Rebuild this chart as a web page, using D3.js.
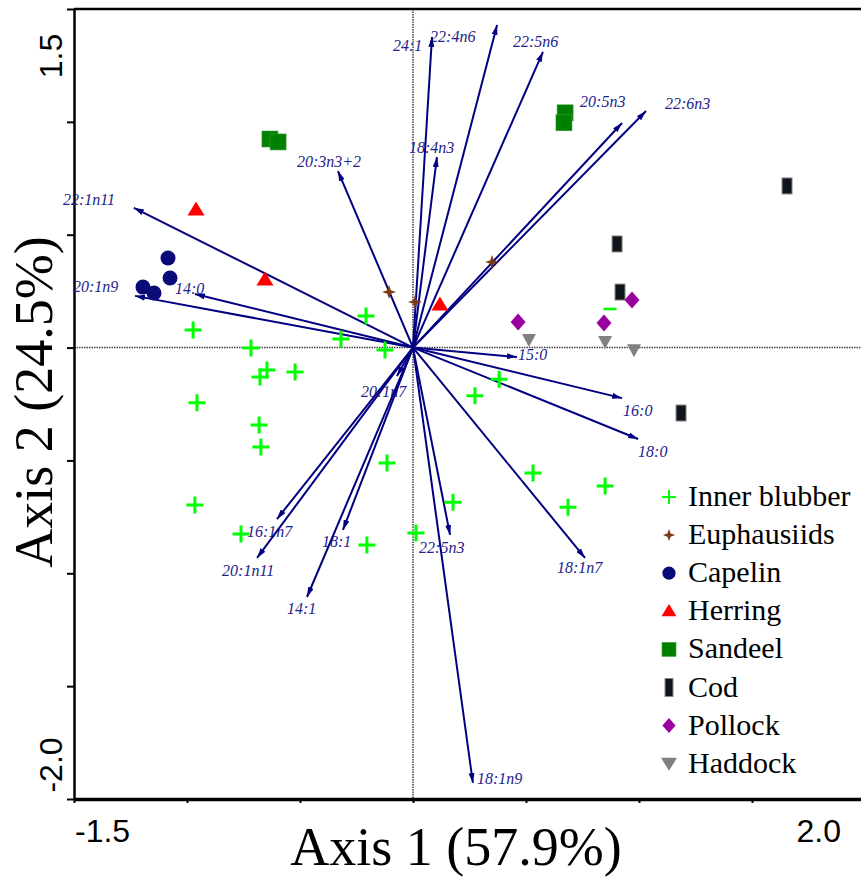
<!DOCTYPE html>
<html>
<head>
<meta charset="utf-8">
<script src="https://cdn.jsdelivr.net/npm/d3@7"></script>
<style>
  html, body { margin: 0; padding: 0; background: #fff; }
  svg { display: block; }
</style>
</head>
<body>
<svg id="chart" width="861" height="877"></svg>
<script>
// ---------------- DATA ----------------
const innerBlubber = [
  [-0.973, 0.078], [-0.717, -0.002], [-0.646, -0.099], [-0.677, -0.130],
  [-0.522, -0.108], [-0.319, 0.038], [-0.208, 0.140], [-0.124, -0.011],
  [-0.956, -0.245], [-0.681, -0.343], [-0.673, -0.440], [-0.965, -0.697],
  [-0.761, -0.826], [-0.204, -0.875], [-0.115, -0.511], [0.013, -0.822],
  [0.177, -0.685], [0.274, -0.214], [0.381, -0.140], [0.531, -0.556],
  [0.686, -0.707], [0.850, -0.613]
];
const innerBlubberPartial = [[0.872, 0.171]];
const euphausiids = [[-0.106, 0.246], [0.009, 0.202], [0.350, 0.379]];
const capelin = [[-1.084, 0.397], [-1.075, 0.308], [-1.195, 0.268], [-1.146, 0.242]];
const herring = [[-0.960, 0.610], [-0.655, 0.300], [0.119, 0.189]];
const sandeel = [[-0.633, 0.924], [-0.597, 0.911], [0.673, 1.040], [0.668, 0.996]];
const cod = [[1.655, 0.716], [0.903, 0.459], [0.916, 0.246], [1.186, -0.290]];
const pollock = [[0.969, 0.211], [0.465, 0.113], [0.845, 0.109]];
const haddock = [[0.513, 0.034], [0.850, 0.025], [0.978, -0.011]];

const fattyAcids = ["24:1", "22:4n6", "22:5n6", "20:5n3", "22:6n3", "18:4n3", "20:3n3+2",
  "22:1n11", "20:1n9", "14:0", "15:0", "16:0", "18:0", "18:1n7", "22:5n3", "18:1n9",
  "20:1n7", "16:1n7", "20:1n11", "18:1", "14:1"];
const loadingAxis1 = [0.084, 0.372, 0.575, 0.925, 1.031, 0.106, -0.332,
  -1.235, -1.230, -0.965, 0.460, 0.925, 0.996, 0.761, 0.164, 0.265,
  -0.071, -0.602, -0.690, -0.310, -0.469];
const loadingAxis2 = [1.376, 1.429, 1.310, 0.995, 1.048, 0.844, 0.782,
  0.619, 0.229, 0.237, -0.042, -0.224, -0.405, -0.932, -0.830, -1.929,
  -0.126, -0.760, -0.932, -0.808, -1.105];

const groupNames = ["Inner blubber", "Euphausiids", "Capelin", "Herring", "Sandeel", "Cod", "Pollock", "Haddock"];
const xTickValues = [-1.5, -1.0, -0.5, 0, 0.5, 1.0, 1.5];
const yTickValues = [-2.0, -1.5, -1.0, -0.5, 0, 0.5, 1.0, 1.5];
const xEndLabels = ["-1.5", "2.0"];
const yEndLabels = ["-2.0", "1.5"];
const axisTitles = ["Axis 1 (57.9%)", "Axis 2 (24.5%)"];

// ---------------- LAYOUT / STYLE ----------------
const labelOffset = {
  "24:1": [-39, 14], "22:4n6": [-67, 17], "22:5n6": [-30, -5], "20:5n3": [-42, -16],
  "22:6n3": [19, -2], "18:4n3": [-28, -4], "20:3n3+2": [-41, -4], "22:1n11": [-71, -3],
  "20:1n9": [-62, -4], "14:0": [-20, 0], "15:0": [1, 3], "16:0": [1, 18], "18:0": [0, 18],
  "18:1n7": [-28, 15], "22:5n3": [-31, 18], "18:1n9": [4, 1], "20:1n7": [-36, 21],
  "16:1n7": [-30, 18], "20:1n11": [-35, 18], "18:1": [-21, 17], "14:1": [-20, 17]
};
const W = 861, H = 877;
const x = d3.scaleLinear().domain([-1.5, 2.0]).range([74, 865]);
const y = d3.scaleLinear().domain([-2.0, 1.5]).range([799, 9]);

const svg = d3.select("#chart");
const navy = "#000080";

// arrow marker
svg.append("defs").append("marker")
  .attr("id", "ah").attr("viewBox", "0 0 10 6").attr("refX", 10).attr("refY", 3)
  .attr("markerWidth", 10).attr("markerHeight", 6).attr("markerUnits", "userSpaceOnUse")
  .attr("orient", "auto")
  .append("path").attr("d", "M0,0 L10,3 L0,6 Z").attr("fill", navy);

// dotted zero lines
svg.append("line").attr("x1", x(-1.5)).attr("x2", W).attr("y1", y(0)).attr("y2", y(0))
  .attr("stroke", "#444").attr("stroke-width", 1.5).attr("stroke-dasharray", "1.5,1");
svg.append("line").attr("x1", x(0)).attr("x2", x(0)).attr("y1", y(1.5)).attr("y2", y(-2.0))
  .attr("stroke", "#444").attr("stroke-width", 1.5).attr("stroke-dasharray", "1.5,1");

// axes
const gx = svg.append("g").attr("transform", `translate(0,${y(-2.0)})`)
  .call(d3.axisBottom(x).tickValues(xTickValues).tickSize(4).tickSizeOuter(0).tickFormat(""));
gx.select(".domain").attr("stroke", "#000").attr("stroke-width", 3.5);
gx.selectAll(".tick line").attr("stroke", "#000").attr("stroke-width", 2);

const gy = svg.append("g").attr("transform", `translate(${x(-1.5)},0)`)
  .call(d3.axisLeft(y).tickValues(yTickValues).tickSize(7).tickSizeOuter(0).tickFormat(""));
gy.select(".domain").attr("stroke", "#000").attr("stroke-width", 2.5);
gy.selectAll(".tick line").attr("stroke", "#000").attr("stroke-width", 2);

// top border
svg.append("line").attr("x1", x(-1.5)).attr("x2", W).attr("y1", y(1.5)).attr("y2", y(1.5))
  .attr("stroke", "#000").attr("stroke-width", 2.5);

// end tick labels
const sans = "'Liberation Sans', Arial, Helvetica, sans-serif";
const serif = "'Liberation Serif', 'Times New Roman', serif";
svg.append("text").attr("x", x(-1.5) + 1).attr("y", 842).attr("font-family", sans)
  .attr("font-size", 32).attr("fill", "#000").text(xEndLabels[0]);
svg.append("text").attr("x", 841).attr("y", 842).attr("text-anchor", "end").attr("font-family", sans)
  .attr("font-size", 32).attr("fill", "#000").text(xEndLabels[1]);
svg.append("text").attr("transform", `translate(62,765) rotate(-90)`).attr("text-anchor", "middle")
  .attr("font-family", sans).attr("font-size", 32).attr("fill", "#000").text(yEndLabels[0]);
svg.append("text").attr("transform", `translate(62,56) rotate(-90)`).attr("text-anchor", "middle")
  .attr("font-family", sans).attr("font-size", 32).attr("fill", "#000").text(yEndLabels[1]);

// axis titles
svg.append("text").attr("x", 456).attr("y", 865).attr("text-anchor", "middle")
  .attr("font-family", serif).attr("font-size", 54).attr("fill", "#000").text(axisTitles[0]);
svg.append("text").attr("transform", `translate(52,402) rotate(-90)`).attr("text-anchor", "middle")
  .attr("font-family", serif).attr("font-size", 54).attr("fill", "#000").text(axisTitles[1]);

// arrows
const arrows = fattyAcids.map((n, i) => ({ name: n, a1: loadingAxis1[i], a2: loadingAxis2[i] }));
const ga = svg.append("g");
ga.selectAll("text").data(arrows).join("text")
  .attr("x", d => x(d.a1) + labelOffset[d.name][0])
  .attr("y", d => y(d.a2) + labelOffset[d.name][1])
  .attr("font-family", serif).attr("font-style", "italic").attr("font-size", 16)
  .attr("fill", "#22228c").text(d => d.name);
ga.selectAll("line").data(arrows).join("line")
  .attr("x1", x(0)).attr("y1", y(0))
  .attr("x2", d => x(d.a1)).attr("y2", d => y(d.a2))
  .attr("stroke", navy).attr("stroke-width", 2).attr("marker-end", "url(#ah)");

// symbols
function drawSymbol(g, type, cx, cy, legend) {
  const s = legend ? 0.88 : 1;
  switch (type) {
    case "plus": {
      const h = (legend ? 7 : 8.5);
      g.append("path").attr("d", `M${cx - h},${cy} H${cx + h} M${cx},${cy - h} V${cy + h}`)
        .attr("stroke", "#00ff00").attr("stroke-width", legend ? 2 : 3).attr("fill", "none");
      break;
    }
    case "star": {
      const r = 7 * s, w = 1.8 * s;
      g.append("path").attr("d",
        `M${cx},${cy - r} L${cx + w},${cy - w} L${cx + r},${cy} L${cx + w},${cy + w} L${cx},${cy + r} L${cx - w},${cy + w} L${cx - r},${cy} L${cx - w},${cy - w} Z`)
        .attr("fill", "#7b3a16");
      break;
    }
    case "circle":
      g.append("circle").attr("cx", cx).attr("cy", cy).attr("r", 7.5 * s).attr("fill", "#0a0a78");
      break;
    case "tri": {
      const hw = 8.5 * s, ht = 14 * s;
      g.append("path").attr("d", `M${cx},${cy - ht * 0.6} L${cx + hw},${cy + ht * 0.4} L${cx - hw},${cy + ht * 0.4} Z`)
        .attr("fill", "#ff0000");
      break;
    }
    case "square": {
      const a = legend ? 14 : 16;
      g.append("rect").attr("x", cx - a / 2).attr("y", cy - a / 2).attr("width", a).attr("height", a)
        .attr("fill", "#008000").attr("stroke", "#3a9a3a").attr("stroke-width", 0.6);
      break;
    }
    case "cod": {
      const w = legend ? 8 : 10, h = legend ? 18 : 16;
      g.append("rect").attr("x", cx - w / 2).attr("y", cy - h / 2).attr("width", w).attr("height", h)
        .attr("fill", "#10141c").attr("stroke", "#8a8a8a").attr("stroke-width", 1);
      break;
    }
    case "diamond": {
      const hw = 7.5 * s, hh = 8.5 * s;
      g.append("path").attr("d", `M${cx},${cy - hh} L${cx + hw},${cy} L${cx},${cy + hh} L${cx - hw},${cy} Z`)
        .attr("fill", "#9a009f");
      break;
    }
    case "dtri": {
      const hw = legend ? 8 : 7, ht = legend ? 13 : 13;
      g.append("path").attr("d", `M${cx - hw},${cy - ht * 0.45} L${cx + hw},${cy - ht * 0.45} L${cx},${cy + ht * 0.55} Z`)
        .attr("fill", "#808080");
      break;
    }
  }
}

const groups = [
  { data: innerBlubber, type: "plus" },
  { data: euphausiids, type: "star" },
  { data: capelin, type: "circle" },
  { data: herring, type: "tri" },
  { data: sandeel, type: "square" },
  { data: cod, type: "cod" },
  { data: pollock, type: "diamond" },
  { data: haddock, type: "dtri" }
];
const gp = svg.append("g");
groups.forEach(gr => gr.data.forEach(d => drawSymbol(gp, gr.type, x(d[0]), y(d[1]), false)));
innerBlubberPartial.forEach(d => {
  gp.append("line").attr("x1", x(d[0]) - 6.5).attr("x2", x(d[0]) + 6.5)
    .attr("y1", y(d[1])).attr("y2", y(d[1])).attr("stroke", "#00ff00").attr("stroke-width", 2.5);
});

// legend
const gl = svg.append("g");
groupNames.forEach((n, i) => {
  const by = 506 + i * 38.1;
  drawSymbol(gl, groups[i].type, 669, by - 9, true);
  gl.append("text").attr("x", 688).attr("y", by).attr("font-family", serif)
    .attr("font-size", 30).attr("fill", "#000").text(n);
});
</script>
</body>
</html>
